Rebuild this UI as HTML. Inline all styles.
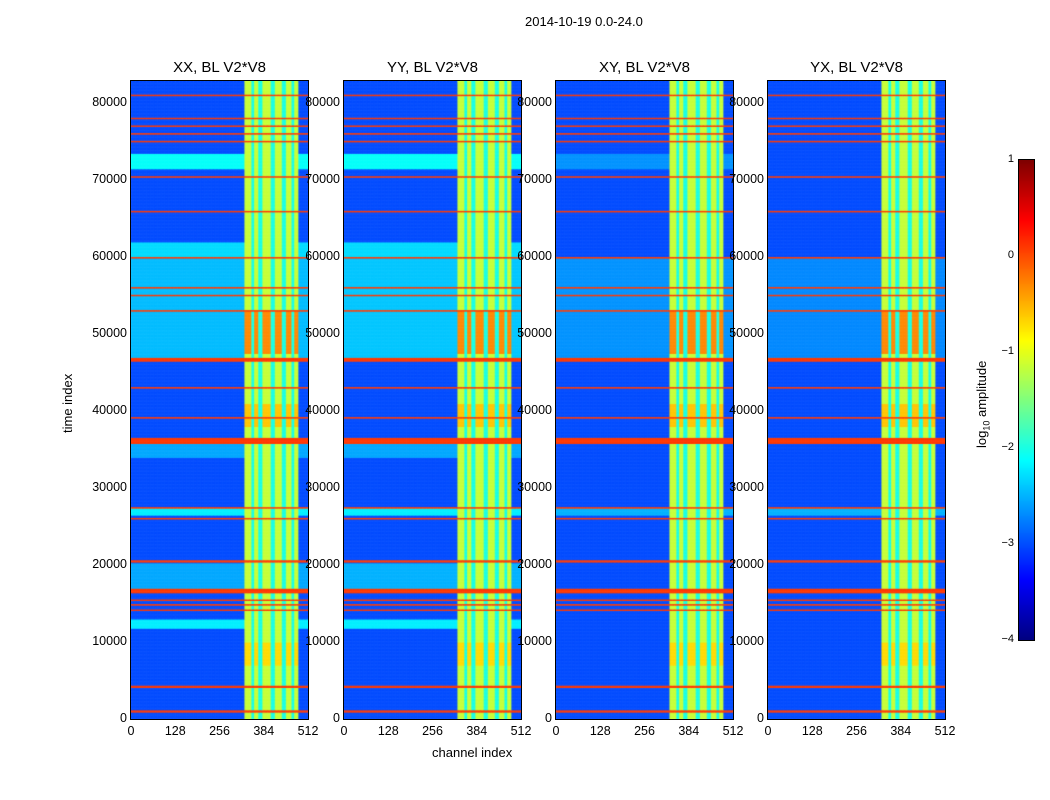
<!DOCTYPE html>
<html><head><meta charset="utf-8">
<style>
body{margin:0;background:#fff;font-family:"Liberation Sans",sans-serif;}
#wrap{position:relative;width:1050px;height:800px;overflow:hidden}
canvas{position:absolute}
.t{position:absolute;font-size:13px;color:#000;white-space:nowrap}
.tk{position:absolute;font-size:12.5px;color:#000;white-space:nowrap}
</style></head><body>
<div id="wrap">
<div class="t" style="left:525px;top:14px">2014-10-19 0.0-24.0</div>
<div class="t" style="left:60px;top:433px;transform:rotate(-90deg);transform-origin:left top">time index</div>
<div class="t" style="left:432px;top:745px">channel index</div>
<div class="t" style="left:974px;top:448px;transform:rotate(-90deg);transform-origin:left top">log<sub style="font-size:9px">10</sub> amplitude</div>
</div>
<script>
const panelTitles=["XX, BL V2*V8","YY, BL V2*V8","XY, BL V2*V8","YX, BL V2*V8"];
const panelLeft=[131,344,556,768];
const yTicks=[0,10000,20000,30000,40000,50000,60000,70000,80000];
const xTicks=[0,128,256,384,512];
const cbTicks=[1,0,-1,-2,-3,-4];
// orange horizontal lines [start,end]
const orangeRows=[[900,1200],[4100,4350],[14050,14250],[14750,14950],[15350,15550],[16400,17000],[20400,20700],[25950,26200],[27350,27600],[35800,36600],[39050,39250],[42950,43150],[46500,47000],[52950,53150],[54950,55200],[55950,56200],[59850,60100],[65850,66050],[70350,70550],[74950,75150],[75950,76150],[76950,77150],[77950,78150],[80950,81150]];
// cyan bands per panel [start,end,value]
const cyanXX=[[11800,13000,-2.2],[26500,27500,-2.2],[47000,60000,-2.45],[60000,62000,-2.3],[71500,73500,-2.1],[17000,20300,-2.55],[34000,36000,-2.55]];
const cyanYY=[[11800,13000,-2.2],[26500,27500,-2.2],[47000,60000,-2.4],[60000,62000,-2.3],[71500,73500,-2.1],[17000,20300,-2.5],[34000,36000,-2.55]];
const cyanXY=[[47000,60000,-2.65],[71500,73500,-2.65],[26500,27500,-2.5]];
const cyanYX=[[47000,60000,-2.7],[26500,27500,-2.5]];
const cyanSets=[cyanXX,cyanYY,cyanXY,cyanYX];
// channel band per panel [startCh,endCh]
const chBand=[[325,482],[325,482],[325,482],[325,482]];
const chStripes=[350,372,408,440,466];
const hotRows=[[47500,53000,-0.3],[38000,41000,-0.6],[7000,10000,-0.7]];
const baseVal=-3.0, bandVal=-1.15, orangeVal=0.1;

function jet(v){let t=(v+4)/5;t=Math.max(0,Math.min(1,t));
 const r=Math.min(Math.max(Math.min(4*t-1.5,-4*t+4.5),0),1);
 const g=Math.min(Math.max(Math.min(4*t-0.5,-4*t+3.5),0),1);
 const b=Math.min(Math.max(Math.min(4*t+0.5,-4*t+2.5),0),1);
 return `rgb(${r*255|0},${g*255|0},${b*255|0})`;}
const wrap=document.getElementById('wrap');
const Y0=719,YTOP=81,TMAX=82900,W=177;
const yS=t=>Y0-(t/TMAX)*(Y0-YTOP);
function inR(t,arr){for(const a of arr)if(t>=a[0]&&t<a[1])return a;return null;}
panelLeft.forEach((L,p)=>{
 const c=document.createElement('canvas');
 
 
 c.width=W;c.height=Y0-YTOP;c.style.left=L+'px';c.style.top=YTOP+'px';
 c.style.outline='1px solid #000';
 const g=c.getContext('2d');
 const dt=100,dc=4;
 for(let t=0;t<TMAX;t+=dt){
  const y1=yS(t+dt)-YTOP,y0=yS(t)-YTOP;
  for(let ch=0;ch<512;ch+=dc){
   let v=baseVal;const cy=inR(t,cyanSets[p]);if(cy)v=cy[2];
   const inBand=ch>=chBand[p][0]&&ch<chBand[p][1];
   const stripe=chStripes.some(s=>Math.abs(ch-s)<5);
   if(inBand){v=stripe?-2.0:bandVal;
    const h=inR(t,hotRows);if(h&&!stripe)v=h[2];}
   if(inR(t,orangeRows))v=orangeVal;
   g.fillStyle=jet(v);g.fillRect(ch/512*W,y1,dc/512*W+0.5,y0-y1+0.5);
  }}
 wrap.appendChild(c);
 const tt=document.createElement('div');tt.className='t';tt.style.fontSize='15px';
 
 
 tt.textContent=panelTitles[p];tt.style.left=(L+W/2)+'px';tt.style.top='59px';tt.style.transform='translateX(-50%)';
 wrap.appendChild(tt);
 xTicks.forEach(x=>{const d=document.createElement('div');d.className='tk';
  
  
  d.textContent=x;d.style.left=(L+x/512*W)+'px';d.style.top='724px';d.style.transform='translateX(-50%)';wrap.appendChild(d);});
 yTicks.forEach(v=>{const d=document.createElement('div');d.className='tk';
  
  
  d.textContent=v;d.style.right=(1050-L+4)+'px';d.style.top=(yS(v)-8)+'px';wrap.appendChild(d);});
});
// colorbar
const cb=document.createElement('canvas');


cb.width=15;cb.height=480;cb.style.left='1019px';cb.style.top='160px';cb.style.outline='1px solid #000';
const cg=cb.getContext('2d');
for(let i=0;i<480;i++){cg.fillStyle=jet(1-5*i/480);cg.fillRect(0,i,15,1);}
wrap.appendChild(cb);
cbTicks.forEach(v=>{const d=document.createElement('div');d.className='tk';d.style.fontSize='11px';
 
 
 d.textContent=v<0?'\u2212'+(-v):v;d.style.right=(1050-1014)+'px';d.style.top=(160+(1-v)/5*480-7)+'px';wrap.appendChild(d);});
</script>
</body></html>
